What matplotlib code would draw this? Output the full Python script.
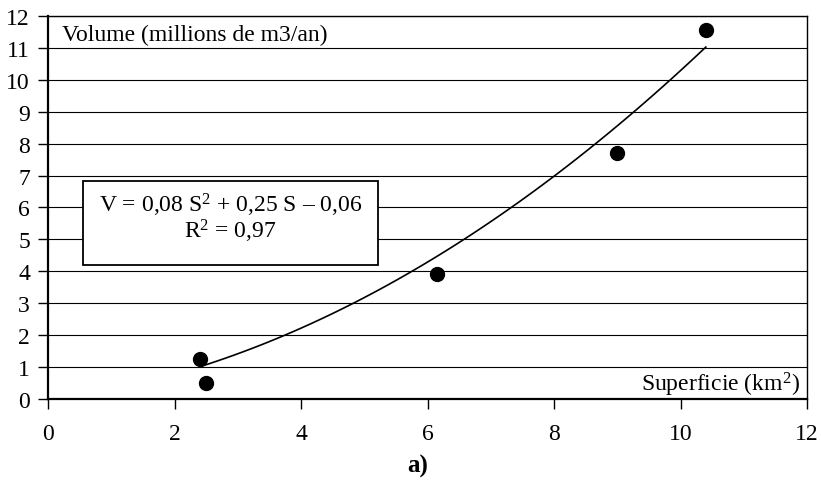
import numpy as np
import matplotlib
matplotlib.use("Agg")
import matplotlib.pyplot as plt
from matplotlib.patches import Rectangle

plt.rcParams["font.family"] = ["Liberation Serif", "DejaVu Serif"]
plt.rcParams["mathtext.fontset"] = "custom"
plt.rcParams["mathtext.rm"] = "Liberation Serif"
plt.rcParams["mathtext.it"] = "Liberation Serif"

# superficie (km2) et volume (millions de m3/an)
superficie = [2.4, 2.5, 6.15, 9.0, 10.4]
volume = [1.25, 0.5, 3.92, 7.72, 11.57]

# tendance polynomiale (ordre 2), coefficients non arrondis
trend_coef = [0.0775, 0.26, -0.06]
eq_line1 = "V = 0,08 S$^2$ + 0,25 S – 0,06"
eq_line2 = "R$^2$ = 0,97"

fig = plt.figure(figsize=(8.21, 4.81), dpi=100)
ax = fig.add_axes([0.0585, 0.1684, 0.9245, 0.7963])

xs = np.linspace(min(superficie), max(superficie), 60)
ax.plot(xs, np.polyval(trend_coef, xs), color="black", lw=1.2, zorder=3)
ax.plot(superficie, volume, "o", color="black", ms=10, zorder=4)

ax.set_xlim(0, 12)
ax.set_ylim(0, 12)
ax.set_xticks(range(0, 13, 2))
ax.set_yticks(range(0, 13))
ax.grid(True, axis="y", color="black", lw=0.8)
ax.set_axisbelow(True)
for s in ax.spines.values():
    s.set_linewidth(1.0)
ax.spines["left"].set_linewidth(1.6)
ax.spines["bottom"].set_linewidth(1.6)
ax.tick_params(direction="out", length=7, width=1, labelsize=17, colors="black")
ax.tick_params(axis="x", pad=10)
ax.tick_params(axis="y", pad=6)

ax.text(0.018, 0.952, "Volume (millions de m3/an)", transform=ax.transAxes,
        fontsize=17, ha="left", va="center")
ax.text(0.99, 0.04, "Superficie (km$^2$)", transform=ax.transAxes,
        fontsize=17, ha="right", va="center")

# cadre de l'equation
ax.add_patch(Rectangle((0.046, 0.35), 0.389, 0.219, transform=ax.transAxes,
                       fc="white", ec="black", lw=1.3, zorder=5))
ax.text(0.24, 0.509, eq_line1, transform=ax.transAxes, fontsize=17,
        ha="center", va="center", zorder=6)
ax.text(0.24, 0.439, eq_line2, transform=ax.transAxes, fontsize=17,
        ha="center", va="center", zorder=6)

fig.text(0.509, 0.03, "a)", fontsize=18, fontweight="bold", ha="center", va="center")

fig.savefig("out.png", dpi=100)
